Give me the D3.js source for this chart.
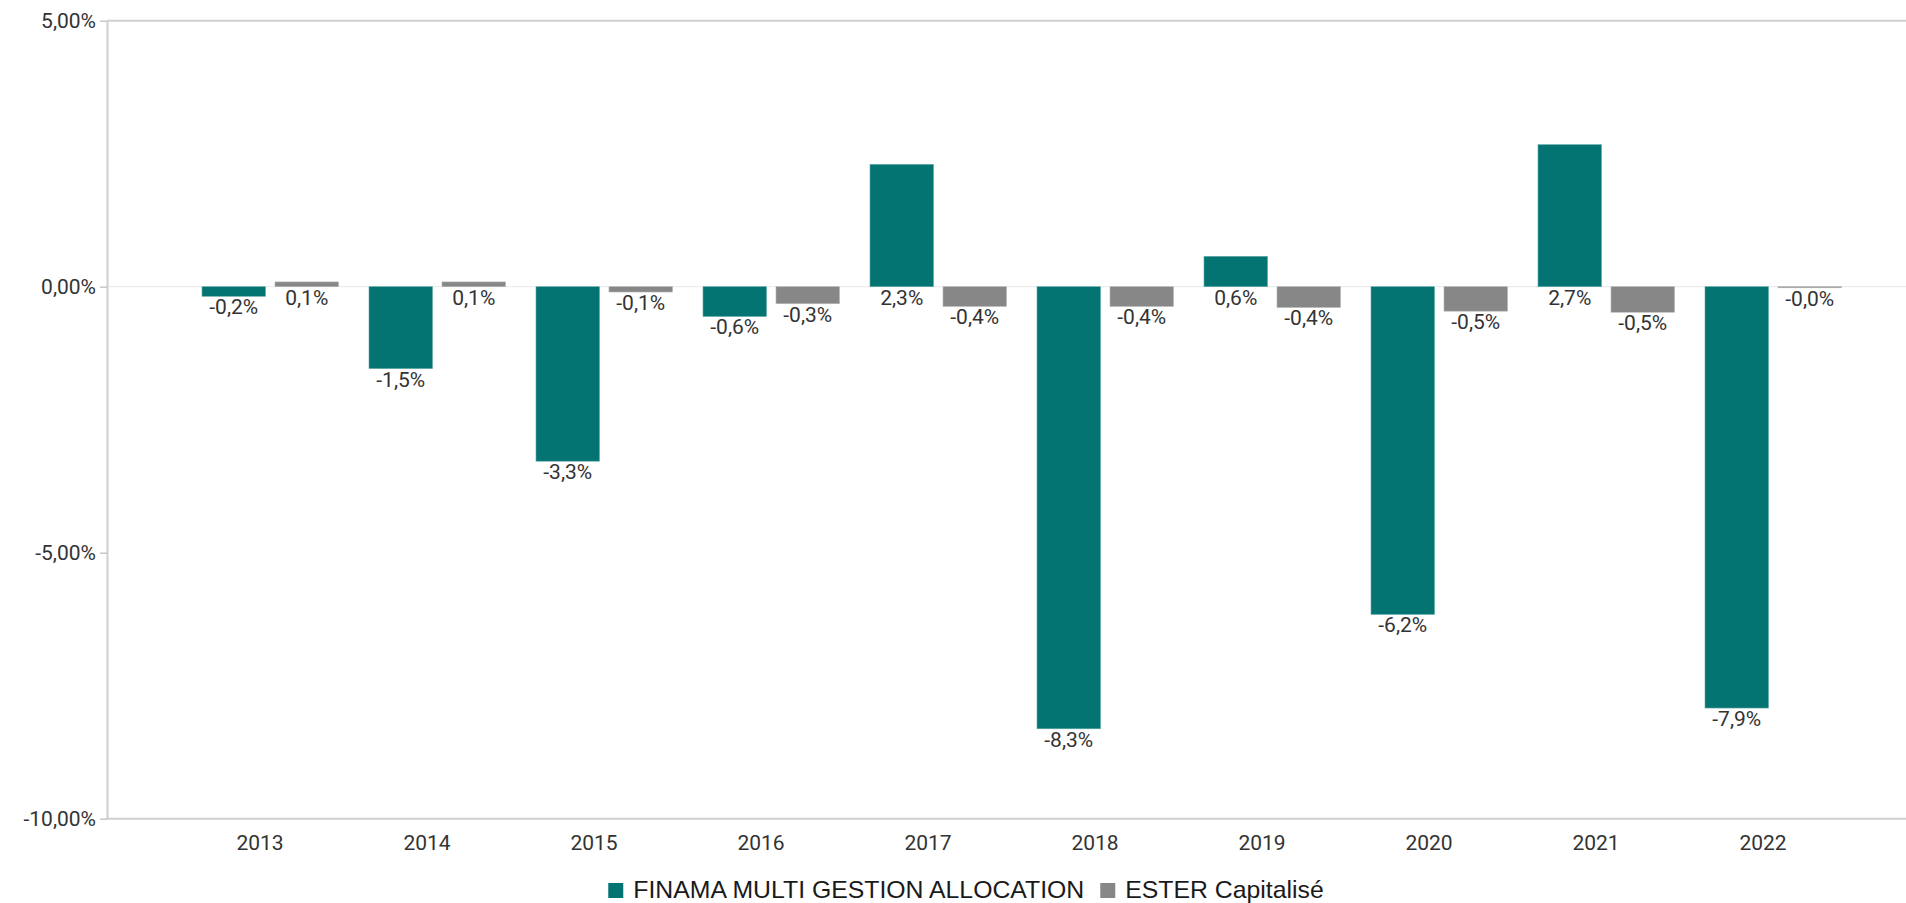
<!DOCTYPE html>
<html>
<head>
<meta charset="utf-8">
<script src="https://cdn.jsdelivr.net/npm/d3@7"></script>
<style>
  body { margin: 0; background: #fff; }
  svg { display: block; }
</style>
</head>
<body>
<svg id="chart" width="1906" height="903"></svg>
<script>
// data
const years = ["2013", "2014", "2015", "2016", "2017", "2018", "2019", "2020", "2021", "2022"];
const seriesNames = ["FINAMA MULTI GESTION ALLOCATION", "ESTER Capitalisé"];
const finamaValues = [-0.18, -1.54, -3.28, -0.56, 2.30, -8.31, 0.57, -6.16, 2.67, -7.92];
const esterValues = [0.09, 0.09, -0.10, -0.32, -0.37, -0.37, -0.39, -0.46, -0.48, -0.02];
const yTicks = [5, 0, -5, -10];
const colors = ["#047472", "#878787"];

let chart = d3.select("#chart");
let chartWidth = 1906;
let plotLeft = 107, plotTop = 20.7, plotBottom = 818.7;

let rows = years.map(function(yr, i) {
    return { year: yr, values: [finamaValues[i], esterValues[i]] };
});

// scales
let x = d3.scaleBand()
    .domain(years)
    .range([176.5, 1846.5]);

let xs = d3.scaleBand()
    .domain(seriesNames)
    .range([25.5, 162])
    .paddingInner(0.13);

let y = d3.scaleLinear()
    .domain([-10, 5])
    .range([plotBottom, plotTop]);

let pct = function(v, n) { return v.toFixed(n).replace(".", ",") + "%"; };

// top frame line and zero line
chart.append("line")
    .attr("x1", plotLeft).attr("x2", chartWidth)
    .attr("y1", y(5)).attr("y2", y(5))
    .style("stroke", "#d0d0d0").style("stroke-width", 2);

chart.append("line")
    .attr("x1", plotLeft).attr("x2", chartWidth)
    .attr("y1", y(0)).attr("y2", y(0))
    .style("stroke", "#e8e8e8").style("stroke-width", 1);

// bars
let groups = chart.selectAll(".year")
    .data(rows)
    .enter()
    .append("g")
    .attr("class", "year")
    .attr("transform", function(d) { return "translate(" + x(d.year) + ",0)"; });

let cells = groups.selectAll("g")
    .data(function(d) { return d.values.map(function(v, k) { return { name: seriesNames[k], k: k, v: v }; }); })
    .enter()
    .append("g");

cells.append("rect")
    .attr("x", function(d) { return xs(d.name); })
    .attr("y", function(d) { return Math.min(y(0), y(d.v)); })
    .attr("width", xs.bandwidth())
    .attr("height", function(d) { return Math.max(1, Math.abs(y(d.v) - y(0))); })
    .style("fill", function(d) { return colors[d.k]; })
    .style("stroke", function(d) { return d.k === 0 ? "#5fa9a8" : "#b4b4b4"; })
    .style("stroke-width", 0.6);

cells.append("text")
    .attr("x", function(d) { return xs(d.name) + xs.bandwidth() / 2; })
    .attr("y", function(d) { return Math.max(y(0), y(d.v)) + 18; })
    .attr("text-anchor", "middle")
    .style("font-family", "Roboto")
    .style("font-size", "21px")
    .style("fill", "#333")
    .text(function(d) { return pct(d.v, 1); });

// x axis
let xAxis = chart.append("g")
    .attr("transform", "translate(0," + plotBottom + ")")
    .call(d3.axisBottom(x).tickSize(0).tickPadding(16));
xAxis.select(".domain").remove();
xAxis.selectAll("text")
    .style("font-family", "Roboto")
    .style("font-size", "21px")
    .style("fill", "#333");

chart.append("line")
    .attr("x1", plotLeft - 1).attr("x2", chartWidth)
    .attr("y1", plotBottom).attr("y2", plotBottom)
    .style("stroke", "#d0d0d0").style("stroke-width", 2);

// y axis
let yAxis = chart.append("g")
    .attr("transform", "translate(" + plotLeft + ",0)")
    .call(d3.axisLeft(y).tickValues(yTicks).tickSize(7).tickSizeOuter(0).tickPadding(4)
        .tickFormat(function(d) { return pct(d, 2); }));
yAxis.select(".domain").style("stroke", "#d0d0d0").style("stroke-width", 2);
yAxis.selectAll(".tick line").style("stroke", "#c8c8c8").style("stroke-width", 1.5);
yAxis.selectAll("text")
    .style("font-family", "Roboto")
    .style("font-size", "21px")
    .style("fill", "#333");

// legend
let legend = chart.append("g");
let lx = 0;
seriesNames.forEach(function(name, k) {
    let item = legend.append("g").attr("transform", "translate(" + lx + ",0)");
    item.append("rect")
        .attr("x", 0).attr("y", 883)
        .attr("width", 15).attr("height", 15)
        .style("fill", colors[k]);
    let t = item.append("text")
        .attr("x", 25).attr("y", 898)
        .style("font-family", "'Liberation Sans', Arial, sans-serif")
        .style("font-size", "24.8px")
        .style("fill", "#1a1a1a")
        .text(name);
    lx += 25 + t.node().getComputedTextLength() + 16;
});
legend.attr("transform", "translate(" + (966 - (lx - 16) / 2) + ",0)");
</script>
</body>
</html>
